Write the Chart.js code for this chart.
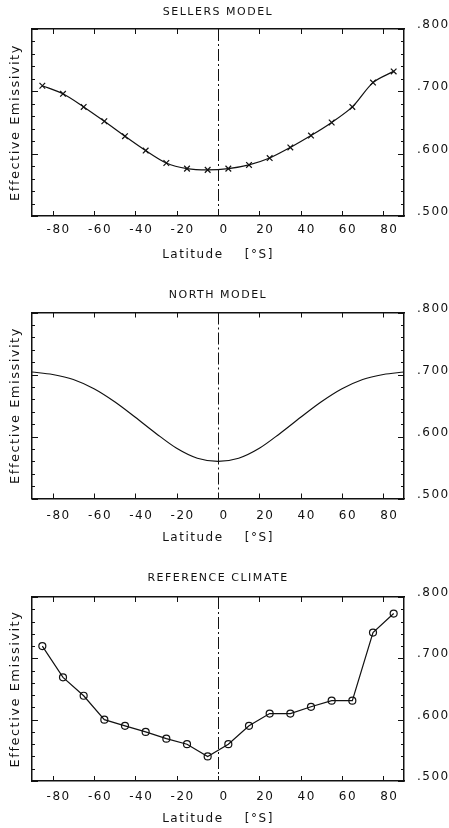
<!DOCTYPE html>
<html>
<head>
<meta charset="utf-8">
<script src="https://cdn.jsdelivr.net/npm/chart.js@4.4.1/dist/chart.umd.min.js"></script>
<style>
  html, body { margin: 0; padding: 0; background: #fff; overflow: hidden; }
  #wrap { position: relative; width: 449px; height: 828px; }
  canvas { position: absolute; left: 0; }
</style>
</head>
<body>
<div id="wrap">
  <canvas id="sellers" width="449" height="270" style="top:0px"></canvas>
  <canvas id="north" width="449" height="280" style="top:270px"></canvas>
  <canvas id="reference" width="449" height="278" style="top:550px"></canvas>
</div>
<script>
// latitude band centres used by the Sellers and reference panels
const latitudeBands = [-85, -75, -65, -55, -45, -35, -25, -15, -5, 5, 15, 25, 35, 45, 55, 65, 75, 85];
const sellersEmissivity = [0.709, 0.696, 0.675, 0.652, 0.628, 0.605, 0.585, 0.576, 0.574,
                           0.576, 0.582, 0.593, 0.610, 0.629, 0.650, 0.675, 0.714, 0.732];
const referenceEmissivity = [0.720, 0.669, 0.639, 0.600, 0.590, 0.580, 0.569, 0.560, 0.540,
                             0.560, 0.590, 0.610, 0.610, 0.621, 0.631, 0.631, 0.742, 0.773];

// North model curve, read every 10 degrees
const northLatitudes = [-90, -80, -70, -60, -50, -40, -30, -20, -10, 0, 10, 20, 30, 40, 50, 60, 70, 80, 90];
const northEmissivity = [0.704, 0.700, 0.692, 0.677, 0.656, 0.631, 0.605, 0.581, 0.565, 0.560,
                         0.565, 0.581, 0.605, 0.631, 0.656, 0.677, 0.692, 0.700, 0.704];

const latitudeTicks = [-80, -60, -40, -20, 0, 20, 40, 60, 80];
const emissivityTicks = [0.5, 0.6, 0.7, 0.8];

const INK = '#111';
const FONT = 'DejaVu Sans';

// the plotter font is widely spaced
const spacing = {
  id: 'spacing',
  beforeUpdate(c) { c.ctx.letterSpacing = '1.5px'; },
  beforeDraw(c) { c.ctx.letterSpacing = '1.5px'; }
};

// inward ticks on all four sides + the dash-dot line at the equator
const frame = {
  id: 'frame',
  afterDatasetsDraw(chart) {
    const { ctx, chartArea: a, scales: { x, y } } = chart;
    ctx.save();
    ctx.strokeStyle = INK;
    ctx.lineWidth = 1;
    ctx.beginPath();
    latitudeTicks.forEach(v => {
      const px = Math.round(x.getPixelForValue(v)) + 0.5;
      ctx.moveTo(px, a.bottom); ctx.lineTo(px, a.bottom - 5);
      ctx.moveTo(px, a.top); ctx.lineTo(px, a.top + 5);
    });
    for (let k = 0; k <= 15; k++) {
      const py = Math.round(y.getPixelForValue(0.5 + k * 0.02)) + 0.5;
      const len = k % 5 === 0 ? 6 : 3;
      ctx.moveTo(a.left, py); ctx.lineTo(a.left + len, py);
      ctx.moveTo(a.right, py); ctx.lineTo(a.right - len, py);
    }
    ctx.stroke();

    const x0 = Math.round(x.getPixelForValue(0)) + 0.5;
    ctx.setLineDash([12, 3, 2, 3]);
    ctx.beginPath();
    ctx.moveTo(x0, a.top); ctx.lineTo(x0, a.bottom);
    ctx.stroke();
    ctx.restore();
  }
};

function makePanel(id, title, xs, ys, opts) {
  new Chart(document.getElementById(id), {
    type: 'line',
    data: {
      datasets: [{
        data: xs.map((v, i) => ({ x: v, y: ys[i] })),
        borderColor: INK,
        borderWidth: 1.2,
        pointStyle: opts.marker || 'circle',
        pointRadius: opts.marker ? opts.radius : 0,
        pointBorderColor: INK,
        pointBackgroundColor: 'rgba(0,0,0,0)',
        pointBorderWidth: 1.2,
        tension: opts.tension,
        cubicInterpolationMode: opts.monotone ? 'monotone' : 'default'
      }]
    },
    options: {
      responsive: false,
      animation: false,
      layout: { padding: 0 },
      plugins: { legend: { display: false }, tooltip: { enabled: false } },
      scales: {
        x: {
          type: 'linear', position: 'bottom', min: -90, max: 90,
          grid: { display: false, drawTicks: false },
          border: { color: INK, width: 1.5 },
          afterBuildTicks: s => { s.ticks = latitudeTicks.map(v => ({ value: v })); },
          afterFit: s => { s.height = opts.bottom; },
          ticks: {
            color: INK, font: { family: FONT, size: 12 },
            padding: opts.tickPad, labelOffset: 6, maxRotation: 0
          },
          title: {
            display: true, text: 'Latitude    [°S]', color: INK,
            font: { family: FONT, size: 12, lineHeight: 1 },
            padding: { top: 0, bottom: opts.xTitlePad }
          }
        },
        xt: {
          type: 'linear', position: 'top', min: -90, max: 90,
          grid: { display: false, drawTicks: false },
          border: { color: INK, width: 1.5 },
          ticks: { display: false },
          afterFit: s => { s.height = opts.top; },
          title: {
            display: true, text: title, color: INK,
            font: { family: FONT, size: 11, lineHeight: 1 },
            padding: { top: opts.titlePad, bottom: 0 }
          }
        },
        y: {
          type: 'linear', position: 'right', min: 0.5, max: 0.8,
          grid: { display: false, drawTicks: false },
          border: { color: INK, width: 1.5 },
          afterBuildTicks: s => { s.ticks = emissivityTicks.map(v => ({ value: v })); },
          afterFit: s => { s.width = 45; },
          ticks: {
            color: INK, font: { family: FONT, size: 12 },
            padding: 13, labelOffset: -4,
            callback: v => '.' + Math.round(v * 1000)
          }
        },
        yl: {
          type: 'linear', position: 'left', min: 0.5, max: 0.8,
          grid: { display: false, drawTicks: false },
          border: { color: INK, width: 1.5 },
          ticks: { display: false },
          afterFit: s => { s.width = 32; },
          title: {
            display: true, text: 'Effective Emissivity', color: INK,
            font: { family: FONT, size: 13, lineHeight: 1 },
            padding: { top: 9, bottom: 0 }
          }
        }
      }
    },
    plugins: [spacing, frame]
  });
}

makePanel('sellers', 'SELLERS MODEL', latitudeBands, sellersEmissivity,
  { marker: 'crossRot', radius: 4, tension: 0.3, top: 29, bottom: 54, titlePad: 6.5, xTitlePad: 9, tickPad: 7 });
makePanel('north', 'NORTH MODEL', northLatitudes, northEmissivity,
  { marker: null, monotone: true, tension: 0.4, top: 42.5, bottom: 51.5, titlePad: 19.5, xTitlePad: 6.5, tickPad: 10 });
makePanel('reference', 'REFERENCE CLIMATE', latitudeBands, referenceEmissivity,
  { marker: 'circle', radius: 3.5, tension: 0, top: 47, bottom: 47, titlePad: 22.5, xTitlePad: 3, tickPad: 9 });
</script>
</body>
</html>
